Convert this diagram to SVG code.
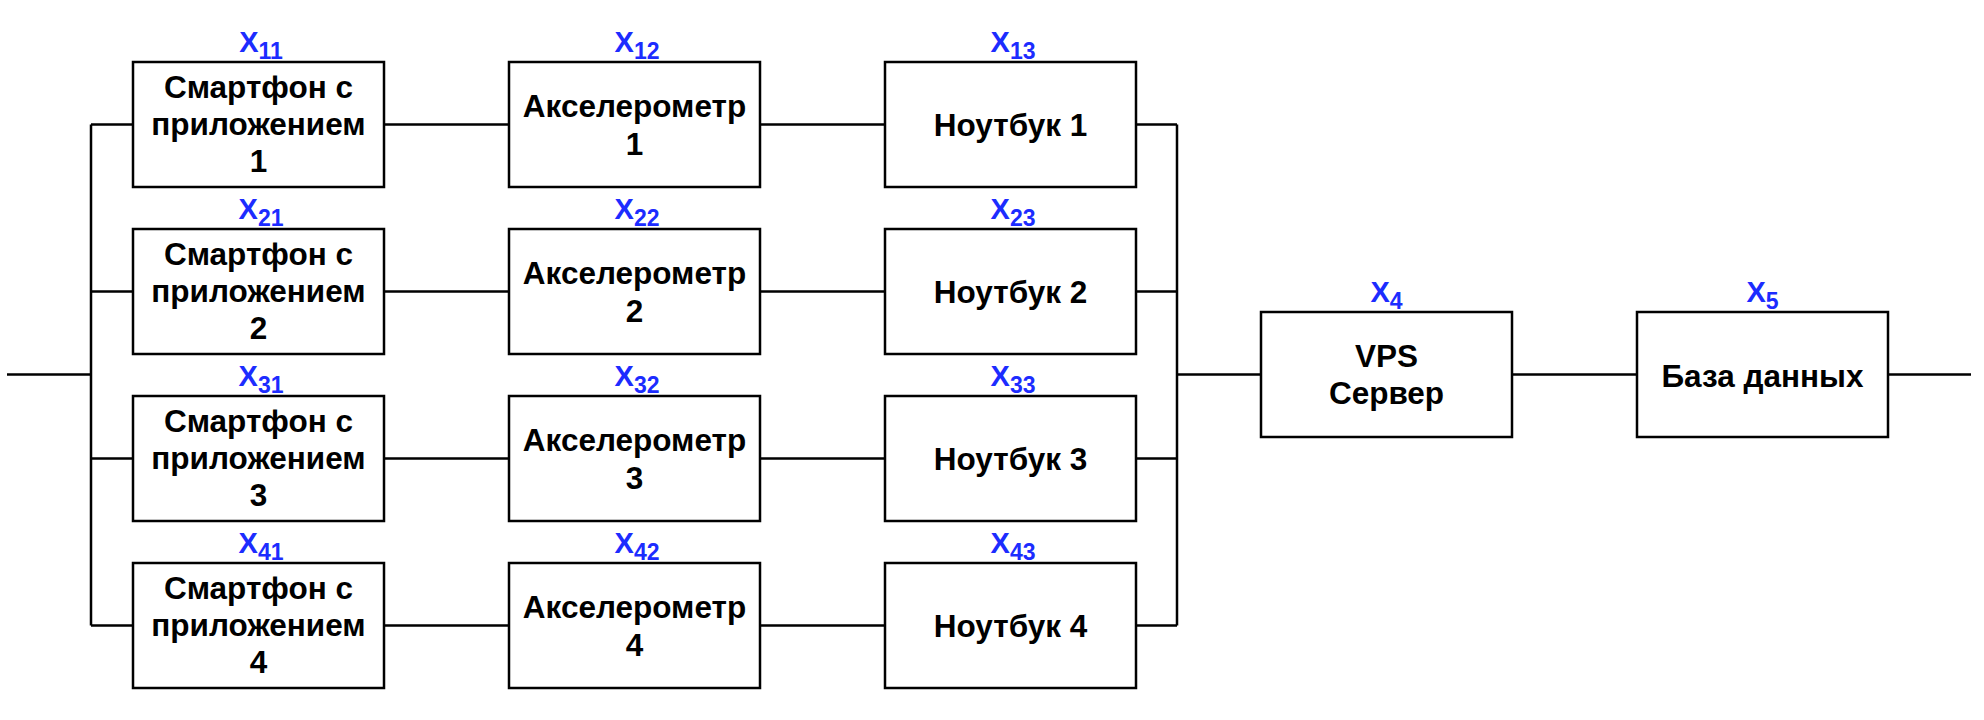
<svg xmlns="http://www.w3.org/2000/svg" width="1984" height="720" viewBox="0 0 1984 720">
<style>
.box{fill:#fff;stroke:#000;stroke-width:2.5}
.wire{fill:none;stroke:#000;stroke-width:2.5}
.t{font-family:"Liberation Sans",Arial,sans-serif;font-weight:bold;font-size:31.5px;fill:#000;text-anchor:middle}
.lbl{font-family:"Liberation Sans",Arial,sans-serif;font-weight:bold;font-size:29px;fill:#1c2cff;text-anchor:middle}
.sub{font-size:23px}
</style>
<rect width="1984" height="720" fill="#fff"/>
<g id="connectors" class="wire">
<path d="M7 374.5H91M91 124.5V625.5M1177 124.5V625.5M1177 374.5H1261M1512 374.5H1637M1888 374.5H1971"/>
<path d="M91 124.5H133M384 124.5H509M760 124.5H885M1136 124.5H1177"/>
<path d="M91 291.5H133M384 291.5H509M760 291.5H885M1136 291.5H1177"/>
<path d="M91 458.5H133M384 458.5H509M760 458.5H885M1136 458.5H1177"/>
<path d="M91 625.5H133M384 625.5H509M760 625.5H885M1136 625.5H1177"/>
</g>
<g id="n11"><rect class="box" x="133" y="62" width="251" height="125"/><text class="lbl" x="261" y="52">X<tspan class="sub" dy="7">11</tspan></text><text class="t" x="258.5" y="98">Смартфон с</text><text class="t" x="258.5" y="135">приложением</text><text class="t" x="258.5" y="172">1</text></g>
<g id="n12"><rect class="box" x="509" y="62" width="251" height="125"/><text class="lbl" x="637" y="52">X<tspan class="sub" dy="7">12</tspan></text><text class="t" x="634.5" y="117">Акселерометр</text><text class="t" x="634.5" y="155">1</text></g>
<g id="n13"><rect class="box" x="885" y="62" width="251" height="125"/><text class="lbl" x="1013" y="52">X<tspan class="sub" dy="7">13</tspan></text><text class="t" x="1010.5" y="136">Ноутбук 1</text></g>
<g id="n21"><rect class="box" x="133" y="229" width="251" height="125"/><text class="lbl" x="261" y="219">X<tspan class="sub" dy="7">21</tspan></text><text class="t" x="258.5" y="265">Смартфон с</text><text class="t" x="258.5" y="302">приложением</text><text class="t" x="258.5" y="339">2</text></g>
<g id="n22"><rect class="box" x="509" y="229" width="251" height="125"/><text class="lbl" x="637" y="219">X<tspan class="sub" dy="7">22</tspan></text><text class="t" x="634.5" y="284">Акселерометр</text><text class="t" x="634.5" y="322">2</text></g>
<g id="n23"><rect class="box" x="885" y="229" width="251" height="125"/><text class="lbl" x="1013" y="219">X<tspan class="sub" dy="7">23</tspan></text><text class="t" x="1010.5" y="303">Ноутбук 2</text></g>
<g id="n31"><rect class="box" x="133" y="396" width="251" height="125"/><text class="lbl" x="261" y="386">X<tspan class="sub" dy="7">31</tspan></text><text class="t" x="258.5" y="432">Смартфон с</text><text class="t" x="258.5" y="469">приложением</text><text class="t" x="258.5" y="506">3</text></g>
<g id="n32"><rect class="box" x="509" y="396" width="251" height="125"/><text class="lbl" x="637" y="386">X<tspan class="sub" dy="7">32</tspan></text><text class="t" x="634.5" y="451">Акселерометр</text><text class="t" x="634.5" y="489">3</text></g>
<g id="n33"><rect class="box" x="885" y="396" width="251" height="125"/><text class="lbl" x="1013" y="386">X<tspan class="sub" dy="7">33</tspan></text><text class="t" x="1010.5" y="470">Ноутбук 3</text></g>
<g id="n41"><rect class="box" x="133" y="563" width="251" height="125"/><text class="lbl" x="261" y="553">X<tspan class="sub" dy="7">41</tspan></text><text class="t" x="258.5" y="599">Смартфон с</text><text class="t" x="258.5" y="636">приложением</text><text class="t" x="258.5" y="673">4</text></g>
<g id="n42"><rect class="box" x="509" y="563" width="251" height="125"/><text class="lbl" x="637" y="553">X<tspan class="sub" dy="7">42</tspan></text><text class="t" x="634.5" y="618">Акселерометр</text><text class="t" x="634.5" y="656">4</text></g>
<g id="n43"><rect class="box" x="885" y="563" width="251" height="125"/><text class="lbl" x="1013" y="553">X<tspan class="sub" dy="7">43</tspan></text><text class="t" x="1010.5" y="637">Ноутбук 4</text></g>
<g id="n4"><rect class="box" x="1261" y="312" width="251" height="125"/><text class="lbl" x="1386.5" y="302">X<tspan class="sub" dy="7">4</tspan></text><text class="t" x="1386.5" y="367">VPS</text><text class="t" x="1386.5" y="404">Сервер</text></g>
<g id="n5"><rect class="box" x="1637" y="312" width="251" height="125"/><text class="lbl" x="1762.5" y="302">X<tspan class="sub" dy="7">5</tspan></text><text class="t" x="1762.5" y="387">База данных</text></g>
</svg>
